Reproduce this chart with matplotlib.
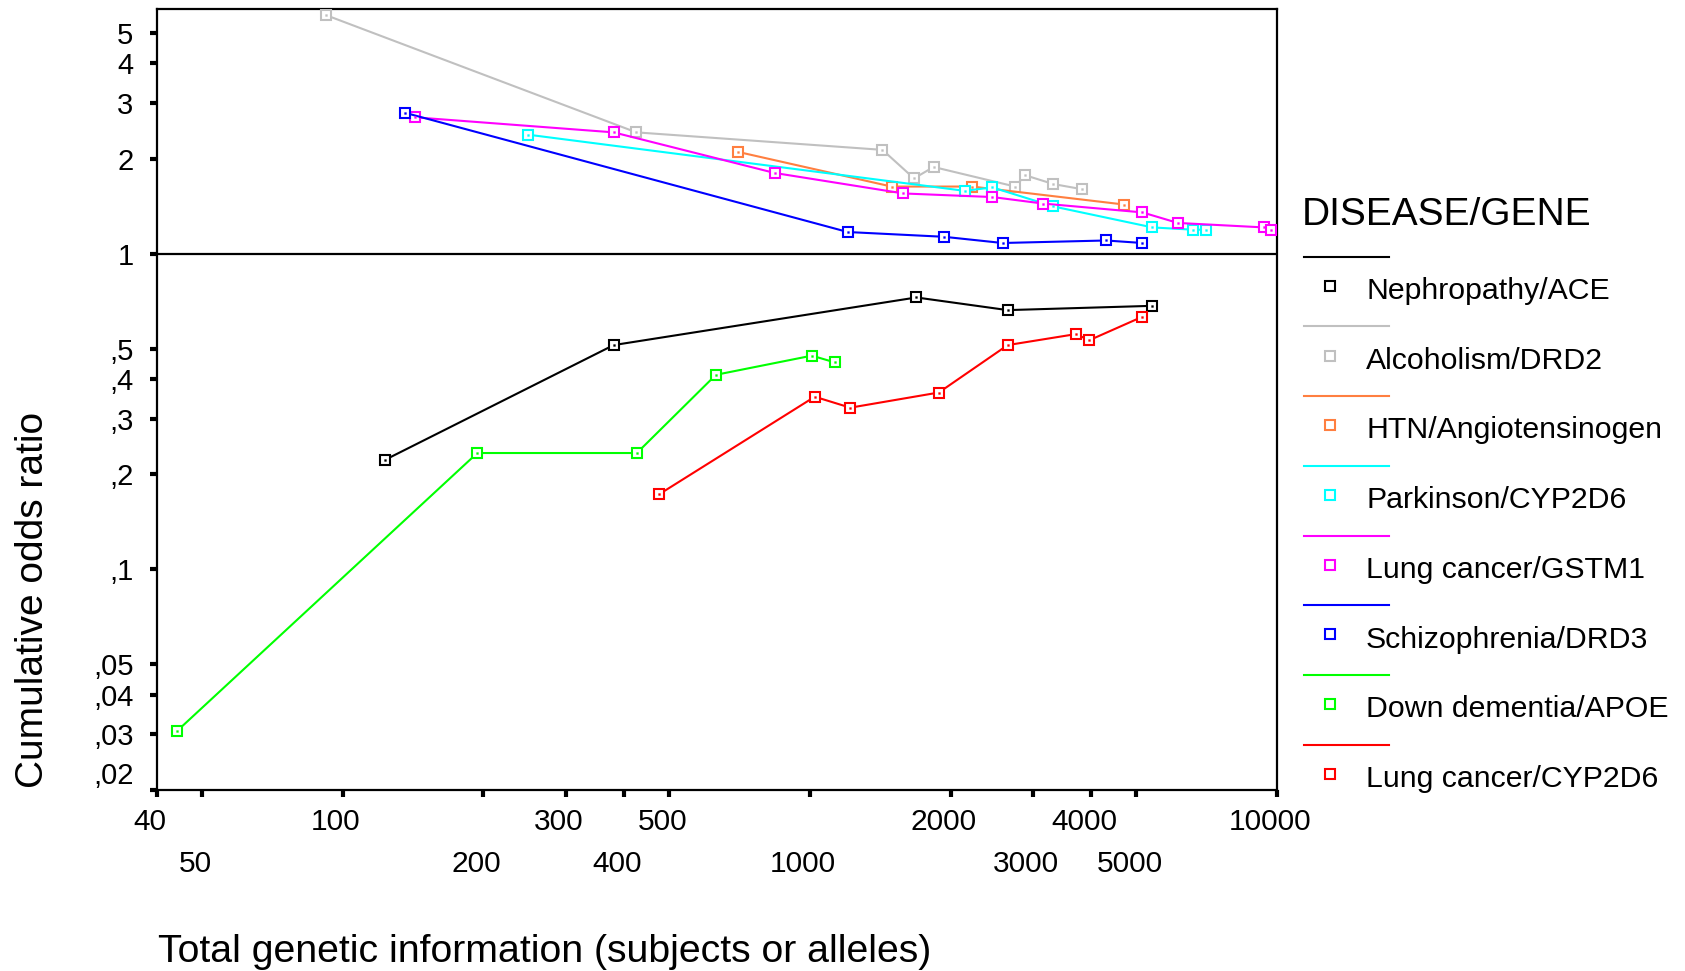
import matplotlib
matplotlib.use("Agg")
import matplotlib.pyplot as plt
import matplotlib.transforms as mtransforms
from matplotlib.lines import Line2D
from matplotlib.ticker import FixedLocator, NullLocator

plt.rcParams['font.family'] = ['Liberation Sans', 'DejaVu Sans']

# ---------------- data ----------------
series_names = ["Nephropathy/ACE", "Alcoholism/DRD2", "HTN/Angiotensinogen",
                "Parkinson/CYP2D6", "Lung cancer/GSTM1", "Schizophrenia/DRD3",
                "Down dementia/APOE", "Lung cancer/CYP2D6"]

nephro_x = [123, 380, 1690, 2650, 5400]
nephro_y = [0.222, 0.513, 0.726, 0.662, 0.683]

alcohol_x = [92, 425, 1430, 1670, 1840, 2750, 2890, 3320, 3815]
alcohol_y = [5.69, 2.42, 2.13, 1.73, 1.88, 1.63, 1.77, 1.66, 1.60]

htn_x = [700, 1495, 2225, 4700]
htn_y = [2.10, 1.63, 1.63, 1.43]

parkinson_x = [249, 2143, 2457, 3320, 5410, 6610, 7040]
parkinson_y = [2.38, 1.58, 1.62, 1.41, 1.21, 1.19, 1.19]

lung_gstm1_x = [143, 380, 840, 1586, 2457, 3155, 5150, 6135, 9370, 9720]
lung_gstm1_y = [2.70, 2.42, 1.80, 1.55, 1.51, 1.44, 1.35, 1.25, 1.21, 1.19]

schizo_x = [136, 1205, 1937, 2584, 4305, 5150]
schizo_y = [2.79, 1.17, 1.13, 1.08, 1.10, 1.08]

down_x = [44.2, 194, 426, 629, 1010, 1131]
down_y = [0.0308, 0.2335, 0.2335, 0.413, 0.475, 0.452]

lung_cyp_x = [476, 1024, 1220, 1888, 2651, 3717, 3959, 5152]
lung_cyp_y = [0.173, 0.352, 0.325, 0.363, 0.513, 0.556, 0.531, 0.631]

xticks_row1 = [40, 100, 300, 500, 2000, 4000, 10000]
xticks_row2 = [50, 200, 400, 1000, 3000, 5000]
yticks = [0.02, 0.03, 0.04, 0.05, 0.1, 0.2, 0.3, 0.4, 0.5, 1, 2, 3, 4, 5]
ytick_labels = [",02", ",03", ",04", ",05", ",1", ",2", ",3", ",4", ",5",
                "1", "2", "3", "4", "5"]

colors = ["#000000", "#C0C0C0", "#FF7F40", "#00FFFF", "#FF00FF", "#0000FF",
          "#00FF00", "#FF0000"]

series = [(nephro_x, nephro_y), (alcohol_x, alcohol_y), (htn_x, htn_y),
          (parkinson_x, parkinson_y), (lung_gstm1_x, lung_gstm1_y),
          (schizo_x, schizo_y), (down_x, down_y), (lung_cyp_x, lung_cyp_y)]

# ---------------- figure ----------------
W, H = 1685, 971
fig = plt.figure(figsize=(W / 100, H / 100), dpi=100)
ax_l, ax_r, ax_t, ax_b = 157, 1277, 9, 790
ax = fig.add_axes([ax_l / W, 1 - ax_b / H, (ax_r - ax_l) / W, (ax_b - ax_t) / H])

ax.set_xscale('log')
ax.set_yscale('log')
ax.set_xlim(40, 10000)
ax.set_ylim(0.02, 5.95)

ax.axhline(1, color='black', lw=1.6, zorder=1)

for (xs, ys), c in zip(series, colors):
    ax.plot(xs, ys, color=c, lw=1.5, marker='s', markersize=7.5,
            markerfacecolor='white', markeredgecolor=c, markeredgewidth=1.5,
            zorder=3)
    ax.plot(xs, ys, linestyle='none', marker='s', markersize=1.3,
            markerfacecolor=c, markeredgecolor=c, markeredgewidth=0.3,
            zorder=4)

for s in ax.spines.values():
    s.set_linewidth(1.6)
    s.set_color('black')

ax.xaxis.set_major_locator(FixedLocator(xticks_row1))
ax.xaxis.set_minor_locator(FixedLocator(xticks_row2))
ax.set_xticklabels([str(v) for v in xticks_row1])
ax.xaxis.set_minor_formatter(plt.FixedFormatter([str(v) for v in xticks_row2]))
ax.tick_params(axis='x', which='major', direction='out', length=5, width=3,
               pad=8, labelsize=21.5)
ax.tick_params(axis='x', which='minor', direction='out', length=5, width=3,
               pad=38, labelsize=21.5)

ax.yaxis.set_major_locator(FixedLocator(yticks))
ax.yaxis.set_minor_locator(NullLocator())
ax.set_yticklabels(ytick_labels)
ax.tick_params(axis='y', which='major', direction='out', length=5, width=3,
               pad=12, labelsize=21)
ax.get_yticklabels()[0].set_va('bottom')

# shift x tick labels slightly left, as in the reference
shift = mtransforms.ScaledTranslation(-7 / 100, 0, fig.dpi_scale_trans)
for t in ax.xaxis.get_major_ticks() + ax.xaxis.get_minor_ticks():
    t.label1.set_transform(t.label1.get_transform() + shift)

fig.text(33 / W, 1 - 600 / H, "Cumulative odds ratio", rotation=90,
         ha='center', va='center', fontsize=28)
fig.text(158 / W, 1 - 952 / H, "Total genetic information (subjects or alleles)",
         ha='left', va='center', fontsize=28.3)

# ---------------- legend ----------------
fig.text(1302 / W, 1 - 215 / H, "DISEASE/GENE", ha='left', va='center',
         fontsize=28)
line_y0, label_y0, step = 256.8, 291.0, 69.7
for i, (name, c) in enumerate(zip(series_names, colors)):
    ly = line_y0 + i * step
    ty = label_y0 + i * step
    fig.add_artist(Line2D([1304 / W, 1389 / W], [1 - ly / H, 1 - ly / H],
                          color=c, lw=1.5, transform=fig.transFigure))
    fig.add_artist(Line2D([1330 / W], [1 - (ty - 5) / H], marker='s',
                          markersize=6.5, markerfacecolor='white',
                          markeredgecolor=c, markeredgewidth=1.5,
                          linestyle='none', transform=fig.transFigure))
    fig.text(1366 / W, 1 - ty / H, name, ha='left', va='center', fontsize=21.8)

fig.savefig("out.png", dpi=100)
